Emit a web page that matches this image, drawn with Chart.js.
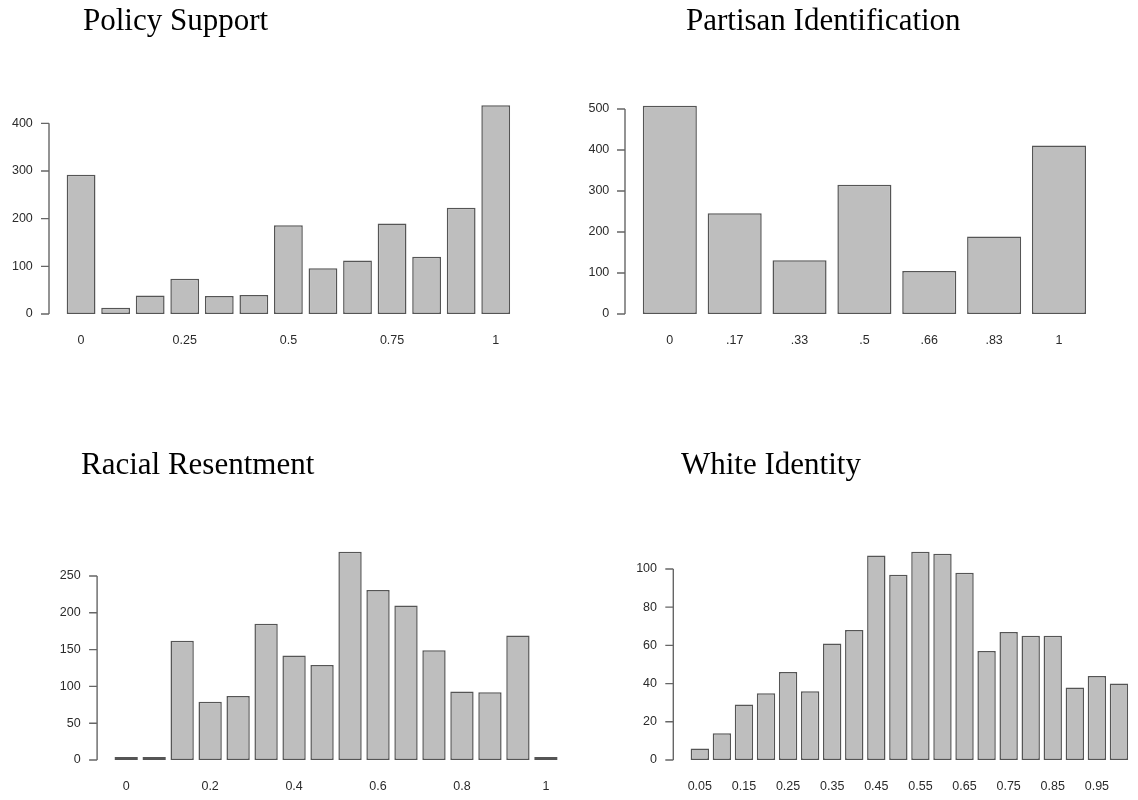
<!DOCTYPE html>
<html>
<head>
<meta charset="utf-8">
<script src="https://cdn.jsdelivr.net/npm/chart.js@4"></script>
<style>
  body { margin: 0; background: #fff; }
  #wrap { position: relative; width: 1138px; height: 800px; }
  canvas { position: absolute; }
  .title {
    position: absolute;
    font: 31px "Liberation Serif", "Times New Roman", serif;
    line-height: 1;
    color: #000;
    white-space: nowrap;
  }
</style>
</head>
<body>
<div id="wrap">
  <canvas id="c1" width="569" height="400" style="left:0;top:0"></canvas>
  <canvas id="c2" width="569" height="400" style="left:569px;top:0"></canvas>
  <canvas id="c3" width="569" height="400" style="left:0;top:400px"></canvas>
  <canvas id="c4" width="569" height="400" style="left:569px;top:400px"></canvas>
  <div class="title" style="left:83px;top:4px">Policy Support</div>
  <div class="title" style="left:686px;top:4px">Partisan Identification</div>
  <div class="title" style="left:81px;top:448px">Racial Resentment</div>
  <div class="title" style="left:681px;top:448px">White Identity</div>
</div>
<script>
// dữ liệu các biểu đồ
const policyLabels = ["0", "", "", "0.25", "", "", "0.5", "", "", "0.75", "", "", "1"];
const policyCounts = [292, 13, 39, 74, 38, 40, 186, 96, 112, 190, 120, 223, 438];
const policyTicks = [0, 100, 200, 300, 400];

const partyLabels = ["0", ".17", ".33", ".5", ".66", ".83", "1"];
const partyCounts = [508, 246, 131, 315, 105, 189, 411];
const partyTicks = [0, 100, 200, 300, 400, 500];

const rrLabels = ["0", "", "", "0.2", "", "", "0.4", "", "", "0.6", "", "", "0.8", "", "", "1"];
const rrCounts = [2, 2, 162, 79, 87, 185, 142, 129, 283, 231, 210, 149, 93, 92, 169, 4];
const rrTicks = [0, 50, 100, 150, 200, 250];

const wiLabels = ["0.05", "", "0.15", "", "0.25", "", "0.35", "", "0.45", "", "0.55", "", "0.65", "", "0.75", "", "0.85", "", "0.95", ""];
const wiCounts = [6, 14, 29, 35, 46, 36, 61, 68, 107, 97, 109, 108, 98, 57, 67, 65, 65, 38, 44, 40];
const wiTicks = [0, 20, 40, 60, 80, 100];

const sans = "'Liberation Sans', Arial, sans-serif";

// trục y kiểu R: đường trục chỉ chạy từ tick đầu đến tick cuối
const rAxis = {
  id: "rAxis",
  afterDraw(chart, args, opts) {
    const y = chart.scales.y;
    const ctx = chart.ctx;
    const x0 = chart.chartArea.left - opts.gap;
    const ticks = opts.ticks;
    ctx.save();
    ctx.strokeStyle = "#666";
    ctx.lineWidth = 1.4;
    ctx.beginPath();
    ctx.moveTo(x0, y.getPixelForValue(ticks[0]));
    ctx.lineTo(x0, y.getPixelForValue(ticks[ticks.length - 1]));
    ticks.forEach((v) => {
      const py = y.getPixelForValue(v);
      ctx.moveTo(x0 - 8, py);
      ctx.lineTo(x0, py);
    });
    ctx.stroke();
    ctx.restore();
  },
};

function makePanel(id, box, area, labels, counts, yTicks, yMax, gap, labelPad) {
  const ctx = document.getElementById(id).getContext("2d");
  return new Chart(ctx, {
    type: "bar",
    data: {
      labels: labels,
      datasets: [
        {
          data: counts,
          backgroundColor: "#bebebe",
          borderColor: "#555",
          borderWidth: 1.5,
          borderSkipped: false,
          minBarLength: 3,
          barPercentage: 1 / 1.2,
          categoryPercentage: 1,
        },
      ],
    },
    options: {
      responsive: false,
      animation: false,
      events: [],
      layout: {
        autoPadding: false,
        padding: {
          left: 0,
          top: area.t - box.top,
          right: box.left + box.w - area.r,
          bottom: 0,
        },
      },
      plugins: {
        legend: { display: false },
        tooltip: { enabled: false },
        rAxis: { gap: gap, ticks: yTicks },
      },
      scales: {
        x: {
          offset: true,
          grid: { display: false, drawTicks: false },
          border: { display: false },
          afterFit: (s) => {
            s.height = box.top + box.h - area.b;
          },
          ticks: {
            autoSkip: false,
            maxRotation: 0,
            minRotation: 0,
            padding: 19,
            color: "#2b2b2b",
            font: { size: 12.5, family: sans },
          },
        },
        y: {
          min: 0,
          max: yMax,
          grid: { display: false, drawTicks: false },
          border: { display: false },
          afterBuildTicks: (s) => {
            s.ticks = yTicks.map((v) => ({ value: v }));
          },
          afterFit: (s) => {
            s.width = area.l - box.left;
          },
          ticks: {
            padding: labelPad,
            color: "#2b2b2b",
            font: { size: 12.5, family: sans },
          },
        },
      },
    },
    plugins: [rAxis],
  });
}

makePanel("c1", { left: 0, top: 0, w: 569, h: 400 }, { l: 63.8, t: 99.5, r: 513, b: 314 },
  policyLabels, policyCounts, policyTicks, 450, 14.8, 31);
makePanel("c2", { left: 569, top: 0, w: 569, h: 400 }, { l: 637.4, t: 100.8, r: 1091.4, b: 314 },
  partyLabels, partyCounts, partyTicks, 520, 12.4, 28.1);
makePanel("c3", { left: 0, top: 400, w: 569, h: 400 }, { l: 112.2, t: 539.2, r: 559.9, b: 760 },
  rrLabels, rrCounts, rrTicks, 300, 15.1, 31.5);
makePanel("c4", { left: 569, top: 400, w: 569, h: 400 }, { l: 688.8, t: 540.3, r: 1135.6, b: 760 },
  wiLabels, wiCounts, wiTicks, 115, 15.5, 31.8);
</script>
</body>
</html>
